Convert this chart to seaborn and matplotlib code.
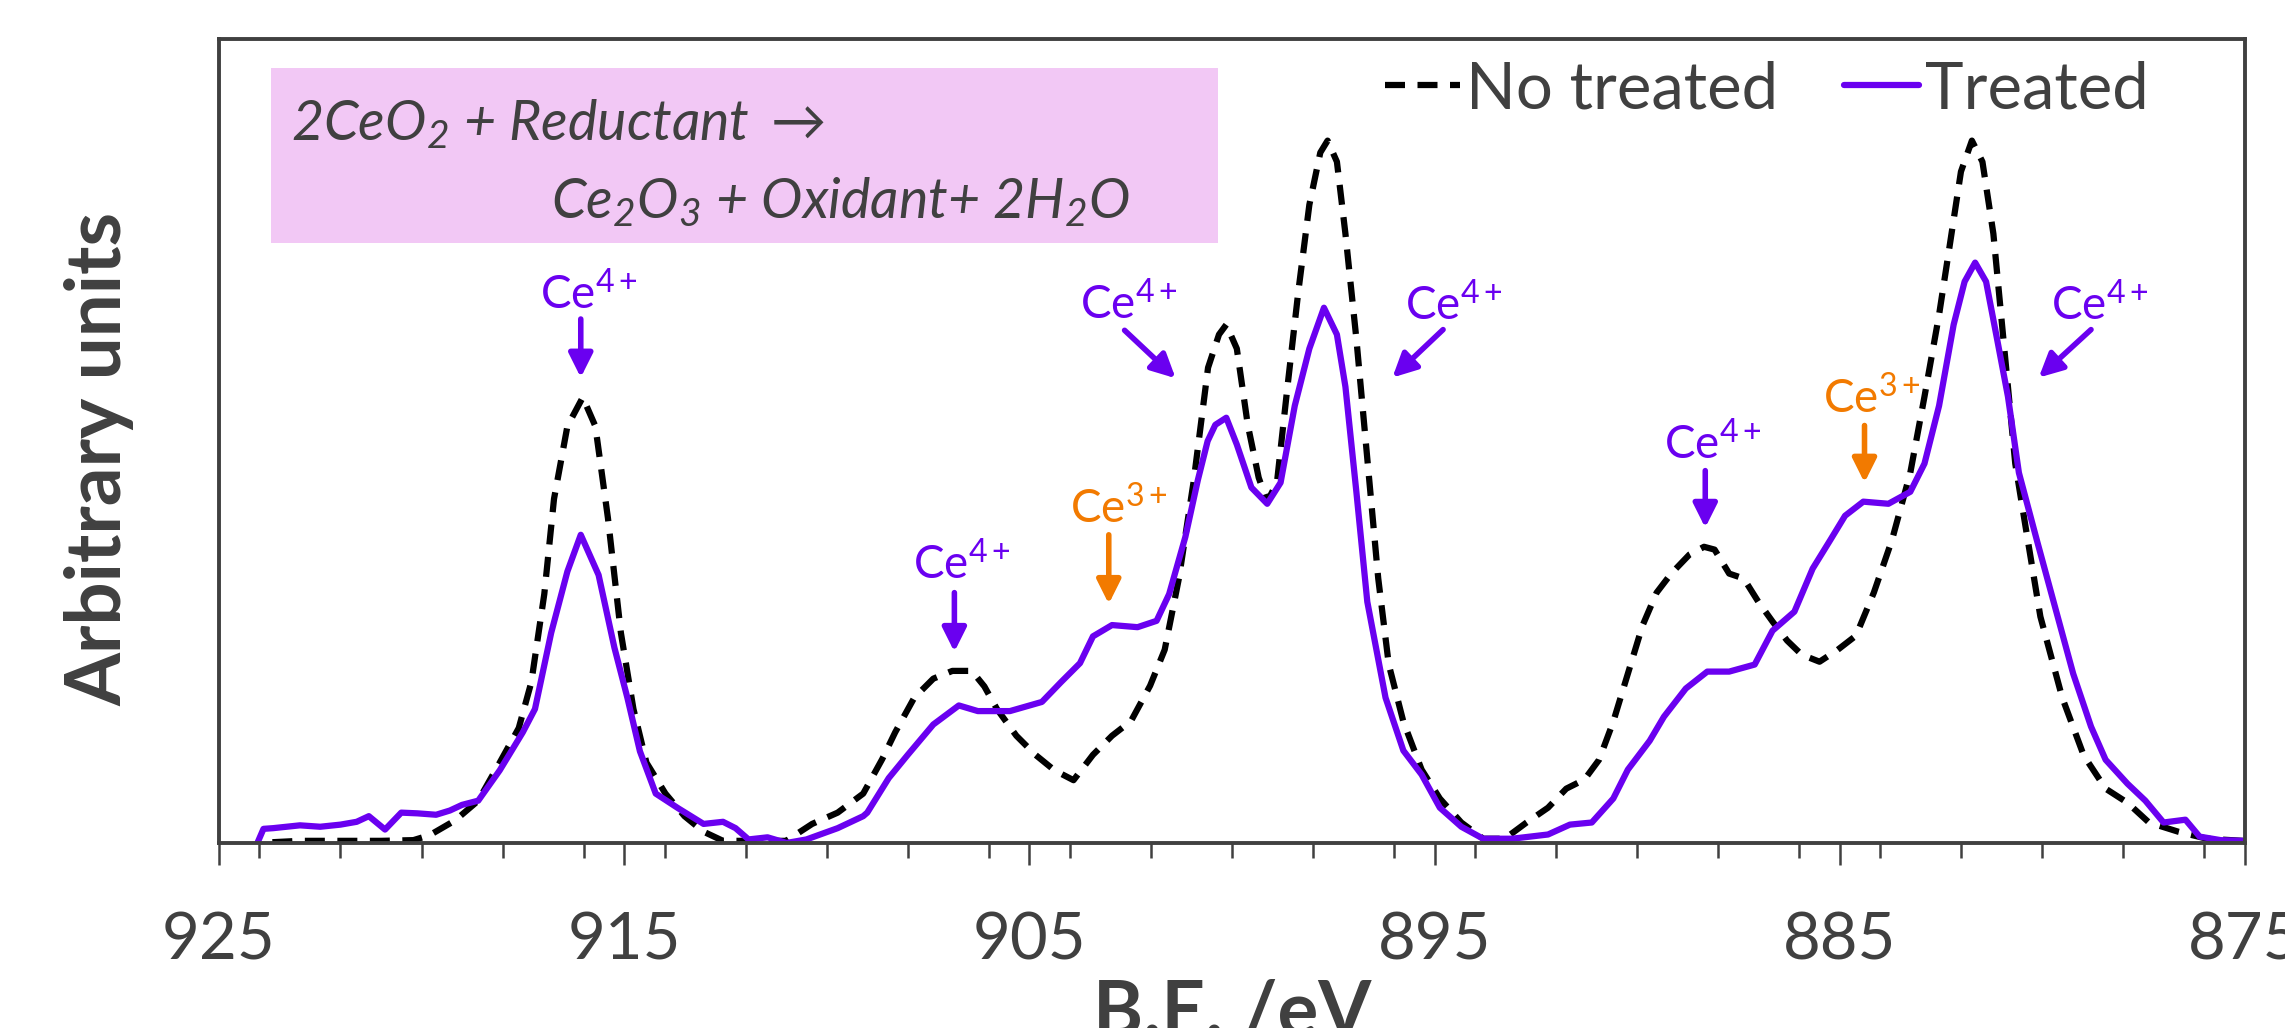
"""
XPS Ce 3d spectra, untreated vs treated sample.
Saves out.png
"""

import matplotlib
matplotlib.use("Agg")
import matplotlib.pyplot as plt
from matplotlib.patches import Rectangle
from matplotlib.ticker import MultipleLocator
import seaborn as sns

# ── Data (arbitrary units, max = 100) ─────────────────────────────────────────
BE_NO = [924.05, 923.0, 921.0, 920.2, 919.8, 919.17, 918.6, 918.07, 917.6, 917.29,
         916.97, 916.73, 916.4, 916.02, 915.71, 915.4, 915.08, 914.77, 914.45, 913.98,
         913.51, 913.04, 912.56, 911.0, 910.36, 909.73, 909.1, 908.63, 908.31, 907.84,
         907.37, 906.9, 906.42, 906.11, 905.8, 905.32, 904.85, 904.38, 903.91, 903.43,
         902.96, 902.49, 902.02, 901.66, 901.31, 900.95, 900.59, 900.32, 900.14, 899.88,
         899.61, 899.34, 899.13, 898.89, 898.63, 898.36, 898.09, 897.82, 897.64, 897.41,
         897.2, 896.93, 896.66, 896.39, 896.13, 895.77, 895.32, 894.87, 894.34, 893.8,
         893.27, 892.73, 892.2, 891.75, 891.3, 890.94, 890.59, 890.23, 889.87, 889.52,
         889.16, 888.71, 888.35, 888.09, 887.73, 887.37, 887.01, 886.66, 886.3, 885.94,
         885.5, 885.05, 884.6, 884.16, 883.71, 883.26, 882.91, 882.55, 882.28, 882.01,
         881.74, 881.48, 881.21, 880.94, 880.67, 880.4, 880.05, 879.51, 878.98, 878.44,
         877.9, 877.37, 876.65, 875.94, 875.05]
INT_NO = [0.0, 0.3, 0.3, 0.4, 1.1, 3.2, 6.0, 11.4, 16.3, 22.8,
          35.3, 48.8, 59.1, 63.2, 59.1, 46.1, 29.8, 19.0, 11.4, 7.0,
          3.8, 1.6, 0.3, 0.3, 2.7, 4.3, 7.0, 11.9, 15.7, 20.6,
          23.3, 24.4, 24.4, 22.2, 19.0, 15.2, 12.5, 10.3, 8.9, 12.5,
          15.2, 17.3, 22.3, 27.4, 37.5, 51.1, 67.4, 72.1, 73.5, 70.1,
          59.3, 51.8, 48.4, 51.1, 64.7, 78.3, 90.5, 97.9, 99.6, 96.6,
          86.4, 71.5, 54.5, 37.5, 25.3, 17.2, 10.4, 6.3, 2.9, 0.6,
          0.6, 2.9, 5.0, 7.7, 9.0, 11.8, 17.2, 24.0, 30.8, 35.5,
          38.2, 40.9, 42.0, 41.6, 38.2, 37.5, 34.2, 31.4, 28.7, 26.7,
          25.7, 27.4, 29.4, 35.5, 43.0, 52.5, 63.3, 74.9, 85.0, 95.2,
          99.6, 96.6, 86.4, 70.1, 53.8, 44.3, 32.1, 20.6, 12.4, 7.7,
          5.7, 2.9, 1.6, 0.6, 0.3]

BE_TR = [924.05, 923.9, 923.66, 923.0, 922.5, 922.0, 921.6, 921.3, 920.9, 920.5,
         920.1, 919.64, 919.3, 919.0, 918.6, 918.07, 917.5, 917.2, 916.8, 916.4,
         916.07, 915.63, 915.24, 914.92, 914.61, 914.22, 913.66, 913.04, 912.56, 912.25,
         911.93, 911.46, 910.99, 910.5, 909.73, 909.1, 909.0, 908.47, 908.0, 907.37,
         906.74, 906.27, 905.48, 904.69, 904.22, 903.75, 903.43, 902.96, 902.33, 901.86,
         901.55, 901.15, 900.84, 900.6, 900.41, 900.14, 899.88, 899.52, 899.13, 898.8,
         898.45, 898.09, 897.73, 897.41, 897.2, 896.93, 896.66, 896.21, 895.77, 895.32,
         894.87, 894.34, 893.8, 893.09, 892.2, 891.66, 891.12, 890.59, 890.23, 889.69,
         889.34, 888.8, 888.27, 887.73, 887.1, 886.66, 886.12, 885.67, 885.23, 884.87,
         884.42, 883.8, 883.26, 882.91, 882.55, 882.19, 881.92, 881.66, 881.39, 881.12,
         880.85, 880.58, 880.14, 879.69, 879.24, 878.8, 878.44, 877.9, 877.46, 877.01,
         876.47, 876.12, 875.6, 875.05]
INT_TR = [0.0, 2.0, 2.1, 2.5, 2.3, 2.6, 3.0, 3.8, 1.9, 4.3,
          4.2, 4.0, 4.6, 5.4, 6.0, 10.3, 15.7, 19.0, 29.8, 38.5,
          43.7, 38.0, 27.7, 20.6, 13.0, 7.0, 4.9, 2.7, 3.0, 2.1,
          0.5, 0.8, 0.0, 0.5, 2.1, 3.8, 4.3, 9.2, 12.5, 16.8,
          19.5, 18.7, 18.7, 20.0, 22.8, 25.5, 29.3, 30.9, 30.6, 31.5,
          35.3, 43.4, 51.5, 57.0, 59.3, 60.3, 56.5, 50.4, 48.1, 51.1,
          62.0, 70.1, 75.9, 72.1, 64.7, 49.8, 34.2, 20.6, 13.1, 9.7,
          5.0, 2.3, 0.6, 0.6, 1.2, 2.6, 2.9, 6.3, 10.4, 14.5,
          17.9, 21.9, 24.3, 24.3, 25.3, 30.1, 32.8, 38.9, 43.0, 46.4,
          48.4, 48.1, 49.8, 53.8, 62.0, 73.5, 79.6, 82.3, 79.6, 71.5,
          63.3, 52.5, 43.0, 33.5, 24.0, 16.5, 11.8, 8.4, 6.0, 2.9,
          3.3, 0.9, 0.4, 0.3]

SERIES = ["No treated", "Treated"]
X_TICKS = [925, 915, 905, 895, 885, 875]

# peak labels: (text, colour key, label x, label baseline y, arrow tail, arrow tip)
CE4 = r"Ce$^{4+}$"
CE3 = r"Ce$^{3+}$"
PEAK_LABELS = [
    (CE4, "ce4", 915.86, 75.7, (916.07, 74.3), (916.07, 66.0)),
    (CE4, "ce4", 906.66, 37.4, (906.85, 35.5), (906.85, 27.1)),
    (CE3, "ce3", 902.80, 45.3, (903.04, 43.7), (903.04, 33.9)),
    (CE4, "ce4", 902.54, 74.3, (902.65, 72.7), (901.39, 65.9)),
    (CE4, "ce4", 894.52, 74.2, (894.79, 72.8), (896.04, 66.0)),
    (CE4, "ce4", 888.14, 54.5, (888.32, 52.8), (888.32, 44.7)),
    (CE3, "ce3", 884.21, 61.0, (884.39, 59.2), (884.39, 51.1)),
    (CE4, "ce4", 878.59, 74.2, (878.80, 72.8), (880.09, 66.0)),
]

# ── Style ─────────────────────────────────────────────────────────────────────
TEXT_CLR = "#404040"
PURPLE   = "#6A00F0"
ORANGE   = "#F27A00"
PINK     = "#F2C8F5"
COLORS   = {"ce4": PURPLE, "ce3": ORANGE}

sns.set_theme(style="white")
plt.rcParams.update({
    "font.family":       ["Lato", "DejaVu Sans"],
    "mathtext.fontset":  "custom",
    "mathtext.rm":       "Lato",
    "mathtext.it":       "Lato:italic",
    "mathtext.bf":       "Lato:bold",
    "mathtext.default":  "regular",
    "text.color":        TEXT_CLR,
    "axes.labelcolor":   TEXT_CLR,
    "xtick.color":       TEXT_CLR,
})

fig = plt.figure(figsize=(22.85, 10.28), dpi=100)
ax = fig.add_axes([0.0958, 0.18, 0.8867, 0.782])

sns.lineplot(x=BE_NO, y=INT_NO, ax=ax, color="black", lw=4.5,
             linestyle=(0, (3.2, 2.0)), label=SERIES[0])
sns.lineplot(x=BE_TR, y=INT_TR, ax=ax, color=PURPLE, lw=4.5, label=SERIES[1])

ax.set_xlim(925, 875)
ax.set_ylim(0, 114)
ax.set_yticks([])
ax.set_xticks(X_TICKS)
ax.set_xticklabels([str(t) for t in X_TICKS])
ax.xaxis.set_minor_locator(MultipleLocator(2))
ax.tick_params(axis="x", which="major", direction="out", length=16, width=1.8,
               pad=33, labelsize=47, colors=TEXT_CLR, bottom=True)
ax.tick_params(axis="x", which="minor", direction="out", length=11, width=1.8,
               colors=TEXT_CLR, bottom=True)
for sp in ax.spines.values():
    sp.set_visible(True)
    sp.set_color(TEXT_CLR)
    sp.set_linewidth(2.8)

ax.set_xlabel("B.E. /eV", fontsize=55, fontweight="bold")
ax.xaxis.set_label_coords(0.5, -0.168)
ax.set_ylabel("Arbitrary units", fontsize=55, fontweight="bold")
ax.yaxis.set_label_coords(-0.0415, 0.478)

# reaction box
ax.add_patch(Rectangle((0.0257, 0.746), 0.4673, 0.218, transform=ax.transAxes,
                       facecolor=PINK, edgecolor="none", zorder=0))
ax.text(0.0355, 0.874, r"2CeO$_2$ + Reductant $\rightarrow$", transform=ax.transAxes,
        fontsize=40, style="italic", ha="left", va="baseline")
ax.text(0.1638, 0.777, r"Ce$_2$O$_3$ + Oxidant+ 2H$_2$O", transform=ax.transAxes,
        fontsize=40, style="italic", ha="left", va="baseline")

# peak assignments
for label, ckey, tx, ty, tail, tip in PEAK_LABELS:
    clr = COLORS[ckey]
    ax.text(tx, ty, label, color=clr, fontsize=33, ha="center", va="baseline")
    ax.annotate("", xy=tip, xytext=tail,
                arrowprops=dict(arrowstyle="-|>,head_length=0.4,head_width=0.2",
                                mutation_scale=36, lw=4, color=clr,
                                shrinkA=0, shrinkB=0))

leg = ax.legend(loc="center right", bbox_to_anchor=(0.9526, 0.937), ncol=2,
                frameon=False, fontsize=47, handlelength=1.15, handletextpad=0.1,
                columnspacing=1.0, borderpad=0, borderaxespad=0)
for txt in leg.get_texts():
    txt.set_color(TEXT_CLR)

fig.savefig("out.png", dpi=100)
plt.close(fig)
